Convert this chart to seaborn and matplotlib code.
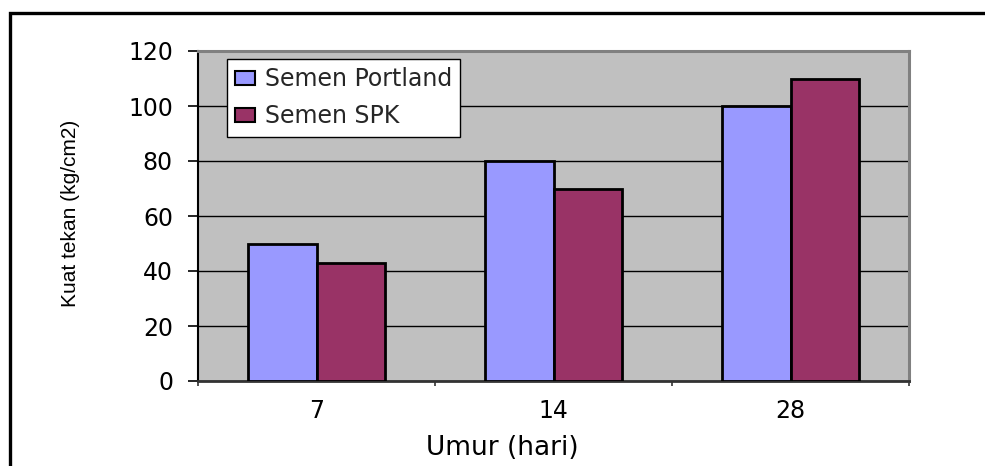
import matplotlib
matplotlib.use("Agg")
import matplotlib.pyplot as plt
from matplotlib.patches import Rectangle
import seaborn as sns
import pandas as pd

# ---- data ----
ages = ["7", "14", "28"]
portland = [50, 80, 100]
spk = [43, 70, 110]
series_names = ["Semen Portland", "Semen SPK"]
colors = ["#9999FF", "#993366"]
y_ticks = [0, 20, 40, 60, 80, 100, 120]
x_title = "Umur (hari)"
y_title = "Kuat tekan (kg/cm2)"

df = pd.DataFrame({
    "Umur": ages * 2,
    "Kuat": portland + spk,
    "Semen": [series_names[0]] * len(ages) + [series_names[1]] * len(ages),
})

sns.set_theme(style="white")
plt.rcParams["font.family"] = ["DejaVu Sans"]

W, H = 985, 466
fig = plt.figure(figsize=(W / 100, H / 100), dpi=100)
fig.patch.set_facecolor("white")

L, R, T, B = 198, 909, 51, 381
ax = fig.add_axes([L / W, (H - B) / H, (R - L) / W, (B - T) / H])
ax.set_facecolor("#C0C0C0")

sns.barplot(data=df, x="Umur", y="Kuat", hue="Semen", order=ages,
            hue_order=series_names, palette=colors, saturation=1,
            width=0.58, gap=0, edgecolor="black", linewidth=2.0, ax=ax,
            errorbar=None, zorder=3)

ax.set_ylim(0, 120)
ax.set_xlim(-0.5, 2.5)
ax.set_yticks(y_ticks)
ax.yaxis.grid(True, color="black", linewidth=1.0)
ax.set_axisbelow(True)

# x ticks: marks at category boundaries, labels at centres
ax.set_xticks([-0.5, 0.5, 1.5, 2.5])
ax.set_xticklabels([])
ax.set_xticks([0, 1, 2], minor=True)
ax.set_xticklabels(ages, minor=True)
ax.tick_params(axis="x", which="major", direction="out", length=3.8,
               width=1.2, color="#333333", bottom=True)
ax.tick_params(axis="x", which="minor", length=0, pad=13, labelsize=17,
               labelcolor="black")
ax.tick_params(axis="y", direction="out", length=7, width=1.2,
               color="black", pad=11, labelsize=17, labelcolor="black", left=True)

for side in ["top", "right"]:
    ax.spines[side].set_color("#808080")
    ax.spines[side].set_linewidth(2.2)
ax.spines["left"].set_color("black")
ax.spines["left"].set_linewidth(1.5)
ax.spines["bottom"].set_color("#333333")
ax.spines["bottom"].set_linewidth(2.0)

ax.set_xlabel(x_title, fontsize=19, color="black", va="center")
ax.xaxis.set_label_coords((502 - L) / (R - L), (B - 448) / (B - T))
ax.set_ylabel(y_title, fontsize=15, color="black", va="center",
              family=["Liberation Sans", "DejaVu Sans"])
ax.yaxis.set_label_coords((71 - L) / (R - L), (B - 213) / (B - T))

leg = ax.legend(loc="upper left",
                bbox_to_anchor=(227 / W, 1 - 59 / H),
                bbox_transform=fig.transFigure,
                fontsize=17, frameon=True, fancybox=False, shadow=False,
                framealpha=1, edgecolor="black", facecolor="white",
                handlelength=0.85, handleheight=0.5, handletextpad=0.4,
                labelspacing=0.55, borderpad=0.35, borderaxespad=0)
leg.get_frame().set_linewidth(1.0)
for h in leg.legend_handles:
    h.set_edgecolor("black")
    h.set_linewidth(1.5)
leg.set_zorder(10)

# outer chart-area border (extends beyond right and bottom edges)
fig.patches.append(Rectangle((9.5 / W, -0.2), 1.2, 1.2 - 12.5 / H,
                             transform=fig.transFigure, fill=False,
                             edgecolor="black", linewidth=2.4, clip_on=False))

fig.savefig("out.png", dpi=100, facecolor="white")
